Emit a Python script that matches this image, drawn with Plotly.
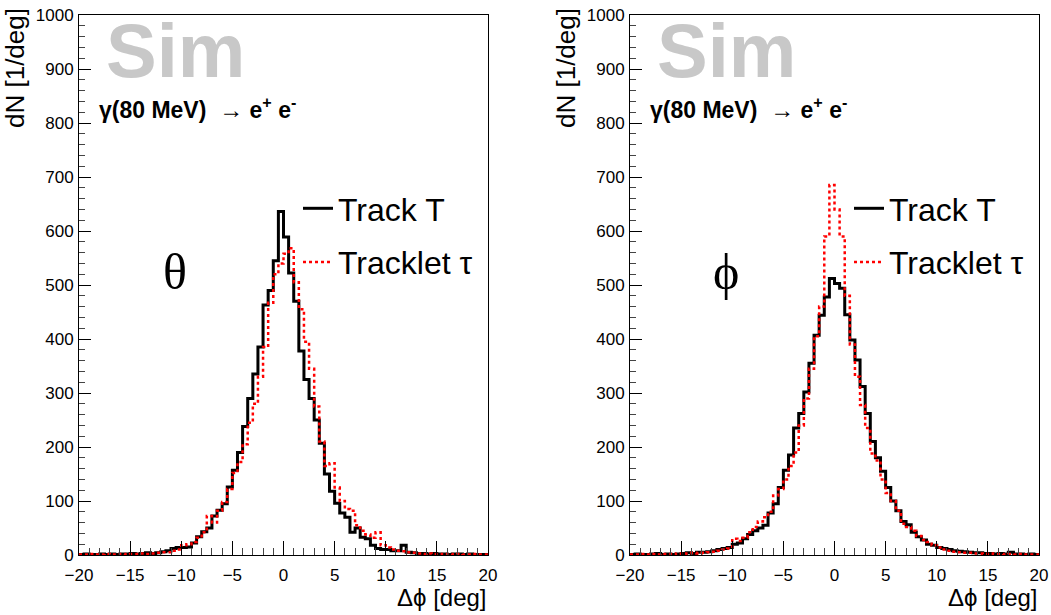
import numpy as np
import plotly.graph_objects as go

# ---------------- data (80 bins of 0.5 deg from -20 to 20) ----------------
x_min, x_max, bin_width = -20.0, 20.0, 0.5

theta_track = [1, 2, 1, 1, 2, 1, 2, 1, 2, 2, 3, 2, 3, 4, 3,
               4, 6, 8, 12, 14, 14, 15, 22, 34, 43, 50, 72, 83, 95, 126,
               157, 190, 238, 290, 335, 385, 463, 490, 545, 636,
               589, 522, 470, 378, 325, 290, 250, 207, 150, 118,
               96, 78, 70, 42, 50, 33, 30, 18, 12, 10,
               10, 8, 8, 18, 5, 4,
               3, 3, 2, 3, 2, 2, 1, 2, 2, 1, 2, 1, 1, 1]

theta_tracklet = [1, 1, 2, 1, 1, 2, 1, 1, 2, 1, 2, 2, 3, 2, 3,
                  4, 5, 5, 8, 10, 18, 20, 24, 32, 42, 72, 60, 82, 98, 122,
                  152, 172, 205, 245, 280, 330, 385, 467, 520, 540,
                  558, 568, 505, 455, 395, 345, 275, 210, 165, 170,
                  125, 100, 85, 82, 55, 45, 38, 32, 42, 18,
                  14, 10, 8, 7, 5, 4,
                  3, 2, 3, 2, 2, 1, 2, 1, 2, 1, 1, 2, 1, 1]

phi_track = [1, 2, 1, 1, 2, 3, 1, 2, 1, 2, 3, 4, 3, 5,
             5, 6, 8, 10, 12, 14, 20, 22, 30, 38, 45, 50, 55, 78, 95, 125,
             157, 185, 235, 262, 302, 355, 407, 444, 478, 512,
             503, 494, 445, 398, 361, 312, 262, 210, 180, 155,
             125, 100, 82, 62, 56, 42, 34, 28, 20, 18,
             14, 12, 10, 8, 7, 6,
             5, 4, 4, 3, 3, 2, 3, 2, 5, 2, 2, 1, 2, 1]

phi_tracklet = [1, 1, 2, 1, 2, 1, 2, 2, 1, 3, 2, 3, 4, 3,
                4, 5, 6, 8, 10, 12, 30, 26, 32, 42, 52, 62, 70, 80, 110, 122,
                140, 165, 190, 240, 290, 345, 405, 460, 590, 685,
                640, 590, 480, 390, 330, 278, 235, 188, 175, 140,
                115, 100, 82, 58, 52, 45, 35, 28, 24, 18,
                14, 10, 8, 6, 5, 4,
                4, 3, 3, 2, 3, 2, 2, 1, 2, 1, 2, 1, 1, 1]

legend_labels = ["Track T", "Tracklet \u03c4"]
panel_symbols = ["\u03b8", "\u03d5"]
x_ticks = [-20, -15, -10, -5, 0, 5, 10, 15, 20]

n_bins = len(theta_track)
edges = x_min + bin_width * np.arange(n_bins + 1)


def steps(vals):
    return list(vals) + [vals[-1]]


# ---------------- figure ----------------
W, H = 1051, 615


def px(x):
    return x / W


def py(y):
    return 1 - y / H


fig = go.Figure()

panels = [(theta_track, theta_tracklet, "x", "y", "legend"),
          (phi_track, phi_tracklet, "x2", "y2", "legend2")]
for trk, trklet, xa, ya, leg in panels:
    fig.add_trace(go.Scatter(x=edges, y=steps(trk), mode="lines", line_shape="hv",
                             line=dict(color="black", width=3), name=legend_labels[0],
                             xaxis=xa, yaxis=ya, legend=leg, legendgroup=leg + "a"))
    fig.add_trace(go.Scatter(x=edges, y=steps(trklet), mode="lines", line_shape="hv",
                             line=dict(color="#ff0000", width=2.5, dash="dot"),
                             name=legend_labels[1], xaxis=xa, yaxis=ya, legend=leg,
                             legendgroup=leg + "b"))

font_family = "Liberation Sans, Arial, sans-serif"
xcommon = dict(range=[x_min, x_max], tickmode="array", tickvals=x_ticks,
               ticks="inside", ticklen=14, tickwidth=1, tickcolor="black",
               minor=dict(ticks="inside", ticklen=7, tickwidth=1, tickcolor="#444",
                          dtick=1, tick0=-20, showgrid=False),
               showgrid=False, zeroline=False, showline=True, linecolor="black",
               linewidth=1, mirror=True, automargin=False,
               tickfont=dict(family=font_family, size=17, color="black"),
               ticklabelstandoff=5)
ycommon = dict(range=[0, 1000], dtick=100, tick0=0,
               ticks="inside", ticklen=12, tickwidth=1, tickcolor="black",
               minor=dict(ticks="inside", ticklen=6, tickwidth=1, tickcolor="#444",
                          dtick=20, showgrid=False),
               showgrid=False, zeroline=False, showline=True, linecolor="black",
               linewidth=1, mirror=True, automargin=False,
               tickfont=dict(family=font_family, size=17, color="black"),
               ticklabelstandoff=1)

fig.update_layout(
    template="none",
    width=W, height=H, margin=dict(l=0, r=0, t=0, b=0, autoexpand=False),
    paper_bgcolor="white", plot_bgcolor="white",
    xaxis=dict(domain=[px(79), px(488)], anchor="y", **xcommon),
    yaxis=dict(domain=[py(555), py(15)], anchor="x", **ycommon),
    xaxis2=dict(domain=[px(630), px(1039)], anchor="y2", **xcommon),
    yaxis2=dict(domain=[py(555), py(15)], anchor="x2", **ycommon),
    legend=dict(x=px(298), y=py(181), xanchor="left", yanchor="top",
                font=dict(family=font_family, size=32, color="black"),
                bgcolor="rgba(0,0,0,0)", tracegroupgap=9, itemwidth=30),
    legend2=dict(x=px(849), y=py(181), xanchor="left", yanchor="top",
                 font=dict(family=font_family, size=32, color="black"),
                 bgcolor="rgba(0,0,0,0)", tracegroupgap=9, itemwidth=30),
    showlegend=True,
)

process_text = ("<b>\u03b3(80 MeV)</b>&nbsp;&nbsp;<span style='font-size:24px'>\u2192</span> "
                "<b>e<sup>+</sup> e<sup>-</sup></b>")

annotations = []
for i, off in enumerate([0, 551]):
    annotations += [
        dict(text="<b>Sim</b>", x=px(104 + off), y=py(50), xanchor="left", yanchor="middle",
             font=dict(family=font_family, size=76, color="#c8c8c8")),
        dict(text=process_text, x=px(97 + off), y=py(108), xanchor="left", yanchor="middle",
             font=dict(family=font_family, size=23, color="black")),
        dict(text=panel_symbols[i], x=px(175 + off), y=py(272), xanchor="center", yanchor="middle",
             font=dict(family="Liberation Serif, Times New Roman, serif", size=50, color="black")),
        dict(text="dN [1/deg]", x=px(15 + off), y=py(6), xanchor="center", yanchor="top",
             textangle=-90, font=dict(family=font_family, size=26, color="black")),
        dict(text="\u0394\u03d5 [deg]", x=px(489 + off), y=py(597), xanchor="right", yanchor="middle",
             font=dict(family=font_family, size=24, color="black")),
    ]
for a in annotations:
    a.update(xref="paper", yref="paper", showarrow=False)
fig.update_layout(annotations=annotations)

fig.write_html("out.html", config={"displayModeBar": False},
               post_script="document.body.style.margin='0';document.body.style.padding='0';")
